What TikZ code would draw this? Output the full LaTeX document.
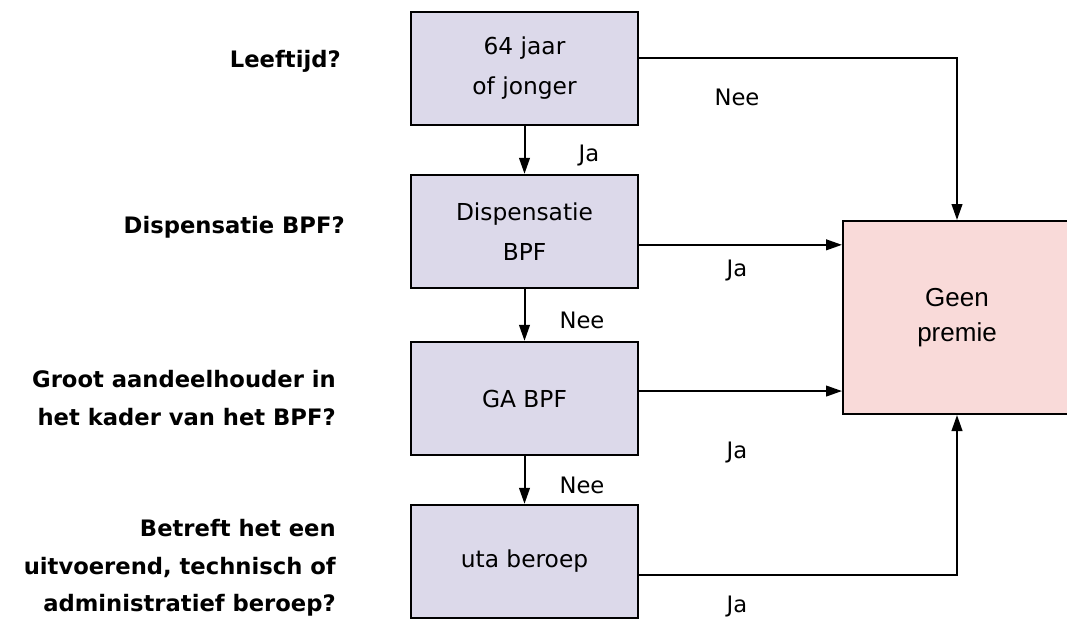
\documentclass[tikz,border=0pt]{standalone}
\usepackage{fontspec}
\setmainfont{DejaVu Sans}
\newfontfamily\arialfont{Liberation Sans}
\usetikzlibrary{arrows.meta}
\definecolor{questionbox}{RGB}{220,217,234}
\definecolor{outcomebox}{RGB}{249,218,217}

\begin{document}
\begin{tikzpicture}[x=0.75pt, y=-0.75pt]
    \tikzstyle{every node} = [inner sep=0pt]
    \tikzstyle{checkbox} = [draw, fill=questionbox, line width=1.5pt, minimum width=170pt,
        minimum height=85pt, align=center, font=\fontsize{17.5}{30}\selectfont]
    \tikzstyle{question} = [anchor=east, align=right, font=\fontsize{17}{28}\selectfont\bfseries]
    \tikzstyle{answer} = [font=\fontsize{17}{20}\selectfont]
    \tikzstyle{flow} = [line width=1.5pt, -{Triangle[length=12pt,width=8pt]}]
    \useasboundingbox (0,0) rectangle (1067,619);

    % questions on the left
    \node[question] (leeftijd) at (341,61) {Leeftijd?};
    \node[question] (dispq) at (345,227) {Dispensatie BPF?};
    \node[question] (gaq) at (336,398) {Groot aandeelhouder in\\het kader van het BPF?};
    \node[question] (utaq) at (336,568) {Betreft het een\\uitvoerend, technisch of\\administratief beroep?};

    % the checks
    \node[checkbox] (leeftijdbox) at (524.5,68.5) {64 jaar\\of jonger};
    \node[checkbox] (dispbox) at (524.5,231.5) {Dispensatie\\BPF};
    \node[checkbox] (gabox) at (524.5,398.5) {GA BPF};
    \node[checkbox] (utabox) at (524.5,561.5) {uta beroep};
    \node[draw, fill=outcomebox, line width=1.5pt, minimum width=171pt, minimum height=144.75pt,
        align=center, font=\arialfont\fontsize{19.5}{26}\selectfont] (geenpremie) at (957,317.5) {Geen\\premie};

    % down the column
    \draw[flow] (leeftijdbox) -- (dispbox);
    \draw[flow] (dispbox) -- (gabox);
    \draw[flow] (gabox) -- (utabox);
    \node[answer] (ja1) at (589,155) {Ja};
    \node[answer] (nee1) at (582,320) {Nee};
    \node[answer] (nee2) at (582,485) {Nee};

    % to the outcome
    \draw[flow] ([yshift=7.9pt]leeftijdbox.east) -| (geenpremie.north);
    \draw[flow] ([yshift=-10pt]dispbox.east) -- ([yshift=-10pt]dispbox.east -| geenpremie.west);
    \draw[flow] ([yshift=5.6pt]gabox.east) -- ([yshift=5.6pt]gabox.east -| geenpremie.west);
    \draw[flow] ([yshift=-10pt]utabox.east) -| (geenpremie.south);
    \node[answer] (nee0) at (737,97) {Nee};
    \node[answer] (ja2) at (737,270) {Ja};
    \node[answer] (ja3) at (737,452) {Ja};
    \node[answer] (ja4) at (737,606) {Ja};
\end{tikzpicture}
\end{document}
